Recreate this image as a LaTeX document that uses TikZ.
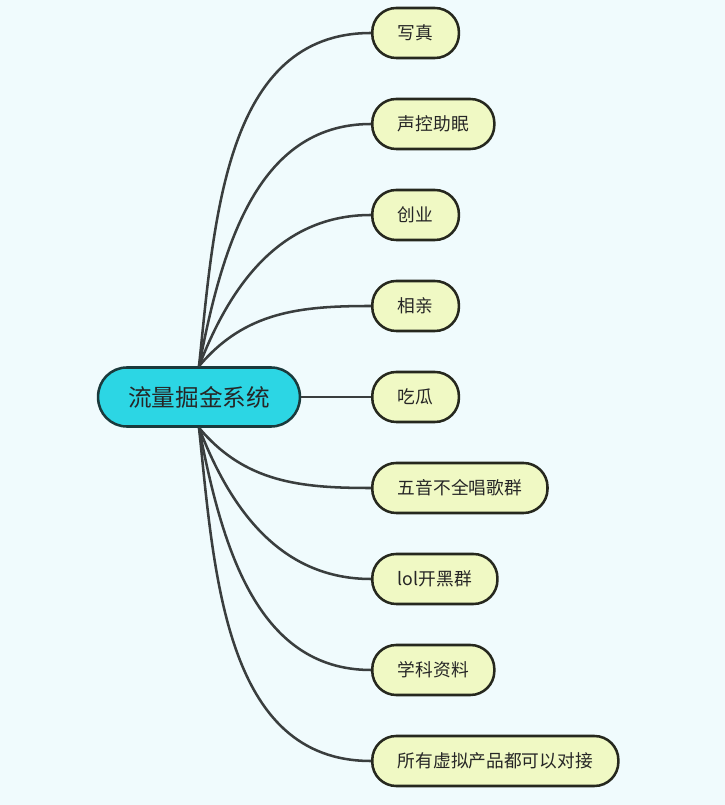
\documentclass[tikz,border=0pt]{standalone}
\usepackage{color, xcolor}
\usepackage{fontspec}
\setmainfont{Noto Sans CJK SC}
\usepackage{tikz}
\usetikzlibrary{positioning,shapes,calc}

\definecolor{bgcol}{RGB}{240,251,253}
\definecolor{rootfill}{RGB}{44,214,228}
\definecolor{rootline}{RGB}{26,58,60}
\definecolor{leaffill}{RGB}{240,249,196}
\definecolor{leafline}{RGB}{38,40,30}
\definecolor{branchcol}{RGB}{58,62,62}

\begin{document}
\begin{tikzpicture}[x=0.025cm, y=0.025cm,
            root/.style={draw=rootline, fill=rootfill, line width=1.8pt, rounded corners=0.72cm,
              minimum height=1.475cm, inner xsep=0.75cm, text=black!85,
              font=\fontsize{16.8}{20}\selectfont},
            leaf/.style={draw=leafline, fill=leaffill, line width=1.8pt, rounded corners=0.6cm,
              minimum height=1.25cm, inner xsep=0.64cm, anchor=west, text=black!85,
              font=\fontsize{12.6}{15}\selectfont},
            branch/.style={draw=branchcol, line width=1.8pt}]
            \fill[bgcol] (0,0) rectangle (725,805);
            \node[root] (sys) at (199,408) {流量掘金系统};
            \node[leaf] (xiezhen) at (371,772) {写真};
            \node[leaf] (shengkong) at (371,681) {声控助眠};
            \node[leaf] (chuangye) at (371,590) {创业};
            \node[leaf] (xiangqin) at (371,499) {相亲};
            \node[leaf] (chigua) at (371,408) {吃瓜};
            \node[leaf] (changge) at (371,317) {五音不全唱歌群};
            \node[leaf] (kaihei) at (371,226) {lol开黑群};
            \node[leaf] (ziliao) at (371,135) {学科资料};
            \node[leaf] (duijie) at (371,44) {所有虚拟产品都可以对接};

            \draw[branch] (sys.north) to[out=84,in=180] (xiezhen.west);
            \draw[branch] (sys.north) to[out=79,in=180] (shengkong.west);
            \draw[branch] (sys.north) to[out=69,in=180] (chuangye.west);
            \draw[branch] (sys.north) to[out=50,in=180] (xiangqin.west);
            \draw[branch] (sys.east) -- (chigua.west);
            \draw[branch] (sys.south) to[out=-50,in=180] (changge.west);
            \draw[branch] (sys.south) to[out=-69,in=180] (kaihei.west);
            \draw[branch] (sys.south) to[out=-79,in=180] (ziliao.west);
            \draw[branch] (sys.south) to[out=-84,in=180] (duijie.west);
\end{tikzpicture}
\end{document}
